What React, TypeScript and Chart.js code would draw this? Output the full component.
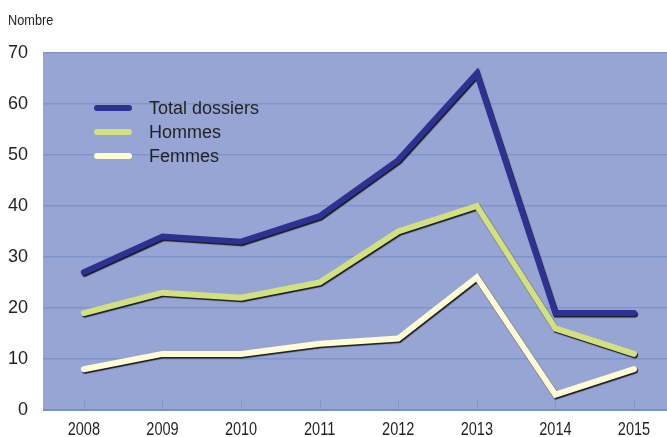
import React, { useEffect, useRef } from "react";
import { Chart, registerables } from "chart.js";

Chart.register(...registerables);

const years = [2008, 2009, 2010, 2011, 2012, 2013, 2014, 2015];
const totalDossiers = [27, 34, 33, 38, 49, 66, 19, 19];
const hommes = [19, 23, 22, 25, 35, 40, 16, 11];
const femmes = [8, 11, 11, 13, 14, 26, 3, 8];
const seriesLabels = ["Total dossiers", "Hommes", "Femmes"];
const seriesColors = ["#2E3192", "#D2E07F", "#FFFBD2"];
const yTicks = [0, 10, 20, 30, 40, 50, 60, 70];
const yTitle = "Nombre";

const PLOT_BG = "#97A5D4";
const GRID = "#7D95CA";
const TEXT = "#231F20";
const FONT = "'Liberation Sans', Arial, sans-serif";

const bgPlugin = {
  id: "bgPlugin",
  beforeDraw(chart: any) {
    const { ctx, chartArea } = chart;
    ctx.save();
    ctx.fillStyle = PLOT_BG;
    ctx.fillRect(chartArea.left, chartArea.top, chartArea.right - chartArea.left, chartArea.bottom - chartArea.top);
    ctx.restore();
  },
  afterDatasetsDraw(chart: any) {
    const { ctx, chartArea, scales } = chart;
    ctx.save();
    ctx.strokeStyle = GRID;
    ctx.lineWidth = 1;
    years.forEach((yr) => {
      const x = Math.round(scales.x.getPixelForValue(yr)) + 0.5;
      ctx.beginPath();
      ctx.moveTo(x, chartArea.bottom - 9);
      ctx.lineTo(x, chartArea.bottom);
      ctx.stroke();
    });
    ctx.strokeStyle = "#7890C8";
    ctx.lineWidth = 2;
    ctx.beginPath();
    ctx.moveTo(chartArea.left, chartArea.bottom);
    ctx.lineTo(chartArea.right, chartArea.bottom);
    ctx.stroke();
    ctx.restore();
  },
};

const shadowPlugin = {
  id: "shadowPlugin",
  beforeDatasetDraw(chart: any) {
    const ctx = chart.ctx;
    ctx.save();
    ctx.shadowColor = "rgba(0,0,0,0.85)";
    ctx.shadowOffsetX = 1;
    ctx.shadowOffsetY = 1.5;
    ctx.shadowBlur = 1;
  },
  afterDatasetDraw(chart: any) {
    chart.ctx.restore();
  },
};

const condensedText = (ctx: any, text: string, x: number, y: number, size: number, sx: number, align: string) => {
  ctx.save();
  ctx.font = `${size}px ${FONT}`;
  ctx.fillStyle = TEXT;
  ctx.textBaseline = "alphabetic";
  ctx.textAlign = align;
  ctx.translate(x, y);
  ctx.scale(sx, 1);
  ctx.fillText(text, 0, 0);
  ctx.restore();
};

const legendPlugin = {
  id: "insideLegend",
  afterDraw(chart: any) {
    const { ctx, scales } = chart;
    ctx.save();
    const x0 = 97;
    const x1 = 129;
    const ys = [108, 132, 156];
    seriesLabels.forEach((lab, i) => {
      ctx.strokeStyle = seriesColors[i];
      ctx.lineWidth = 6;
      ctx.lineCap = "round";
      ctx.beginPath();
      ctx.moveTo(x0, ys[i]);
      ctx.lineTo(x1, ys[i]);
      ctx.stroke();
      ctx.fillStyle = TEXT;
      ctx.font = `18px ${FONT}`;
      ctx.textBaseline = "middle";
      ctx.textAlign = "left";
      ctx.fillText(lab, 149, ys[i] + 1);
    });
    ctx.restore();
    condensedText(ctx, yTitle, 8, 25, 15, 0.85, "left");
    years.forEach((yr) => {
      condensedText(ctx, String(yr), scales.x.getPixelForValue(yr), 435, 17.5, 0.83, "center");
    });
  },
};

export default function App() {
  const ref = useRef<HTMLCanvasElement>(null);
  useEffect(() => {
    if (!ref.current) return;
    const mk = (vals: number[]) => vals.map((v, i) => ({ x: years[i], y: v }));
    const chart = new Chart(ref.current, {
      type: "line",
      data: {
        datasets: [totalDossiers, hommes, femmes].map((vals, i) => ({
          label: seriesLabels[i],
          data: mk(vals),
          borderColor: seriesColors[i],
          backgroundColor: seriesColors[i],
          borderWidth: 6,
          borderCapStyle: "round",
          borderJoinStyle: "miter",
          pointRadius: 0,
          tension: 0,
          fill: false,
          order: 2 - i,
        })),
      },
      options: {
        animation: false,
        responsive: false,
        maintainAspectRatio: false,
        layout: { padding: { top: 53, right: 0, left: 0, bottom: 0 } },
        plugins: { legend: { display: false }, tooltip: { enabled: false } },
        scales: {
          x: {
            type: "linear",
            min: 2007.48,
            max: 2015.42,
            afterBuildTicks: (s: any) => {
              s.ticks = years.map((v) => ({ value: v }));
            },
            ticks: { display: false },
            grid: { display: false, drawTicks: false },
            border: { display: false },
            afterFit: (s: any) => {
              s.height = 27;
            },
          },
          y: {
            min: 0,
            max: 70,
            afterBuildTicks: (s: any) => {
              s.ticks = yTicks.map((v) => ({ value: v }));
            },
            ticks: {
              color: TEXT,
              font: { family: FONT, size: 18 },
              padding: 15,
            },
            grid: { color: GRID, lineWidth: 1.5, drawTicks: false },
            border: { display: false },
            afterFit: (s: any) => {
              s.width = 43;
            },
          },
        },
      },
      plugins: [bgPlugin, shadowPlugin, legendPlugin],
    } as any);
    return () => chart.destroy();
  }, []);
  return (
    <div style={{ position: "fixed", left: 0, top: 0, width: 667, height: 437, background: "#fff" }}>
      <canvas ref={ref} width={667} height={437} style={{ width: 667, height: 437 }} />
    </div>
  );
}
